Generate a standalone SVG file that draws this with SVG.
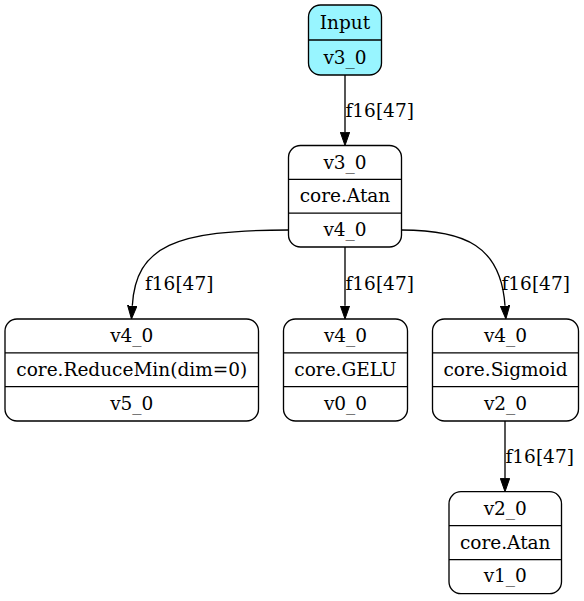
<svg xmlns="http://www.w3.org/2000/svg" width="584" height="601" viewBox="0 0 584 601">
<style>
.box{fill:#ffffff;stroke:#000000;stroke-width:1.33}
.inp{fill:#98f5ff}
.div{stroke:#000000;stroke-width:1.33}
.t{font-family:"DejaVu Serif",serif;font-size:18.5px;fill:#000000;text-anchor:middle}
.lbl{font-family:"DejaVu Serif",serif;font-size:18.5px;fill:#000000}
.edge{fill:none;stroke:#000000;stroke-width:1.33}
</style>
<defs>
<marker id="arr" markerUnits="userSpaceOnUse" markerWidth="14" markerHeight="10" viewBox="0 0 14 10" refX="0" refY="5" orient="auto">
<path d="M0,0.33 L13.3,5 L0,9.67 z" fill="#000000" stroke="#000000" stroke-width="1"/>
</marker>
</defs>
<rect width="584" height="601" fill="#ffffff"/>
<g id="connectors">
<path class="edge" d="M345,75 L345,132.2" marker-end="url(#arr)"/>
<path class="edge" d="M288.5,230 C175,230 136,246 132.3,305.7" marker-end="url(#arr)"/>
<path class="edge" d="M345,247 L345,305.7" marker-end="url(#arr)"/>
<path class="edge" d="M401.5,230 C465,230 501,246 505,305.7" marker-end="url(#arr)"/>
<path class="edge" d="M505,421 L505,478.4" marker-end="url(#arr)"/>
<text class="lbl" x="345.5" y="117">f16[47]</text>
<text class="lbl" x="145" y="290">f16[47]</text>
<text class="lbl" x="345.5" y="290">f16[47]</text>
<text class="lbl" x="501.5" y="290">f16[47]</text>
<text class="lbl" x="505.5" y="463">f16[47]</text>
</g>
<g id="node_input">
<rect class="box inp" x="308.5" y="5" width="73" height="70" rx="12"/>
<line class="div" x1="308.5" y1="40" x2="381.5" y2="40"/>
<text class="t" x="345" y="29">Input</text>
<text class="t" x="345" y="63.5">v3_0</text>
</g>
<g id="node_atan">
<rect class="box" x="288.5" y="145.5" width="113" height="101.5" rx="12"/>
<line class="div" x1="288.5" y1="179.3" x2="401.5" y2="179.3"/>
<line class="div" x1="288.5" y1="213.1" x2="401.5" y2="213.1"/>
<text class="t" x="345" y="168.5">v3_0</text>
<text class="t" x="345" y="202">core.Atan</text>
<text class="t" x="345" y="235.5">v4_0</text>
</g>
<g id="node_reducemin">
<rect class="box" x="5" y="319" width="253.5" height="102" rx="12"/>
<line class="div" x1="5" y1="352.8" x2="258.5" y2="352.8"/>
<line class="div" x1="5" y1="386.6" x2="258.5" y2="386.6"/>
<text class="t" x="131.75" y="342">v4_0</text>
<text class="t" x="131.75" y="375.7">core.ReduceMin(dim=0)</text>
<text class="t" x="131.75" y="409.5">v5_0</text>
</g>
<g id="node_gelu">
<rect class="box" x="283.5" y="319" width="124" height="102" rx="12"/>
<line class="div" x1="283.5" y1="352.8" x2="407.5" y2="352.8"/>
<line class="div" x1="283.5" y1="386.6" x2="407.5" y2="386.6"/>
<text class="t" x="345.5" y="342">v4_0</text>
<text class="t" x="345.5" y="375.7">core.GELU</text>
<text class="t" x="345.5" y="409.5">v0_0</text>
</g>
<g id="node_sigmoid">
<rect class="box" x="432.5" y="319" width="146" height="102" rx="12"/>
<line class="div" x1="432.5" y1="352.8" x2="578.5" y2="352.8"/>
<line class="div" x1="432.5" y1="386.6" x2="578.5" y2="386.6"/>
<text class="t" x="505.5" y="342">v4_0</text>
<text class="t" x="505.5" y="375.7">core.Sigmoid</text>
<text class="t" x="505.5" y="409.5">v2_0</text>
</g>
<g id="node_atan2">
<rect class="box" x="449" y="491.7" width="112.5" height="102" rx="12"/>
<line class="div" x1="449" y1="525.7" x2="561.5" y2="525.7"/>
<line class="div" x1="449" y1="559.7" x2="561.5" y2="559.7"/>
<text class="t" x="505.25" y="514.7">v2_0</text>
<text class="t" x="505.25" y="548.5">core.Atan</text>
<text class="t" x="505.25" y="582.3">v1_0</text>
</g>
</svg>
